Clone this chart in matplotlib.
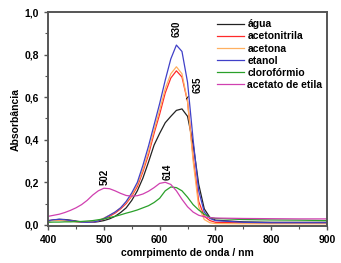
import numpy as np
import matplotlib as mlt
mlt.use('Agg')
from matplotlib import pyplot as plt
from matplotlib.ticker import MultipleLocator, FuncFormatter

plt.rcParams['font.family'] = ['Liberation Sans', 'DejaVu Sans']
plt.rcParams['font.weight'] = 'bold'

# wavelength [nm]
wl = [400, 410, 420, 430, 440, 450, 460, 470, 480, 490, 500, 510, 520, 530, 540,
      550, 560, 570, 580, 590, 600, 610, 620, 630, 640, 650, 660, 670, 680, 690,
      700, 750, 800, 850, 900]

agua = [0.018, 0.023, 0.026, 0.025, 0.022, 0.018, 0.014, 0.012, 0.012, 0.015,
        0.020, 0.028, 0.040, 0.058, 0.080, 0.115, 0.160, 0.220, 0.295, 0.375,
        0.430, 0.480, 0.510, 0.538, 0.545, 0.510, 0.380, 0.190, 0.075, 0.035,
        0.022, 0.014, 0.012, 0.012, 0.012]
acetonitrila = [0.020, 0.021, 0.022, 0.020, 0.018, 0.015, 0.013, 0.012, 0.013, 0.018,
                0.028, 0.040, 0.055, 0.075, 0.100, 0.135, 0.180, 0.250, 0.330, 0.430,
                0.520, 0.620, 0.690, 0.724, 0.695, 0.580, 0.320, 0.110, 0.040, 0.020,
                0.012, 0.009, 0.008, 0.008, 0.008]
acetona = [0.020, 0.021, 0.022, 0.020, 0.018, 0.015, 0.013, 0.012, 0.014, 0.020,
           0.032, 0.045, 0.060, 0.080, 0.106, 0.140, 0.190, 0.260, 0.345, 0.445,
           0.540, 0.640, 0.710, 0.743, 0.710, 0.580, 0.300, 0.085, 0.025, 0.010,
           0.006, 0.005, 0.005, 0.005, 0.005]
etanol = [0.020, 0.024, 0.026, 0.024, 0.020, 0.016, 0.013, 0.012, 0.013, 0.018,
          0.030, 0.045, 0.060, 0.080, 0.110, 0.150, 0.200, 0.280, 0.370, 0.470,
          0.570, 0.680, 0.780, 0.845, 0.815, 0.670, 0.400, 0.160, 0.060, 0.030,
          0.020, 0.012, 0.010, 0.010, 0.010]
cloroformio = [0.012, 0.013, 0.013, 0.014, 0.014, 0.015, 0.016, 0.018, 0.020, 0.024,
               0.028, 0.034, 0.040, 0.047, 0.055, 0.062, 0.070, 0.080, 0.090, 0.105,
               0.125, 0.160, 0.178, 0.175, 0.160, 0.130, 0.095, 0.070, 0.050, 0.035,
               0.030, 0.025, 0.023, 0.022, 0.020]
acetato = [0.040, 0.045, 0.050, 0.058, 0.068, 0.080, 0.095, 0.115, 0.140, 0.160,
           0.172, 0.170, 0.160, 0.148, 0.138, 0.135, 0.137, 0.145, 0.158, 0.175,
           0.195, 0.200, 0.190, 0.160, 0.120, 0.085, 0.060, 0.045, 0.038, 0.034,
           0.032, 0.030, 0.029, 0.028, 0.028]

series = [(agua, 'água', '#222222'),
          (acetonitrila, 'acetonitrila', '#ff2a2a'),
          (acetona, 'acetona', '#ffb060'),
          (etanol, 'etanol', '#4040c8'),
          (cloroformio, 'clorofórmio', '#2aa02a'),
          (acetato, 'acetato de etila', '#d040b0')]

fig = plt.figure(figsize=(3.41, 2.63), dpi=100)
ax = fig.add_axes([0.141, 0.141, 0.818, 0.813])

for y, lab, c in series:
    ax.plot(wl, y, color=c, linewidth=0.9, label=lab)

ax.set_xlim(400, 900)
ax.set_ylim(-0.005, 1.0)
ax.xaxis.set_major_locator(MultipleLocator(100))
ax.xaxis.set_minor_locator(MultipleLocator(50))
ax.yaxis.set_major_locator(MultipleLocator(0.2))
ax.yaxis.set_minor_locator(MultipleLocator(0.1))
ax.yaxis.set_major_formatter(FuncFormatter(lambda v, p: ('%.1f' % v).replace('.', ',')))
ax.tick_params(which='both', direction='out', labelsize=7.5, color='#555555')
ax.tick_params(which='major', length=3, width=1)
ax.tick_params(which='minor', length=2, width=0.8)
for s in ax.spines.values():
    s.set_color('#555555')
    s.set_linewidth(1.4)

ax.set_xlabel('comrpimento de onda / nm', fontsize=7.5, fontweight='bold', labelpad=2)
ax.set_ylabel('Absorbância', fontsize=7.5, fontweight='bold', labelpad=3)

# peak labels
ax.text(630, 0.92, '630', rotation=90, fontsize=7, fontweight='bold', ha='center', va='center')
ax.text(502, 0.225, '502', rotation=90, fontsize=7, fontweight='bold', ha='center', va='center')
ax.text(614, 0.25, '614', rotation=90, fontsize=7, fontweight='bold', ha='center', va='center')
ax.annotate('635', xy=(637, 0.555), xytext=(668, 0.66), rotation=90,
            fontsize=7, fontweight='bold', ha='center', va='center',
            arrowprops=dict(arrowstyle='-', color='black', lw=0.6, shrinkB=7))

ax.legend(loc='upper right', bbox_to_anchor=(1.01, 1.0), frameon=False,
          handlelength=2.6, handletextpad=0.3, labelspacing=0.2, borderaxespad=0.3,
          prop={'weight': 'bold', 'size': 7.5})

plt.savefig('out.png', dpi=100)
